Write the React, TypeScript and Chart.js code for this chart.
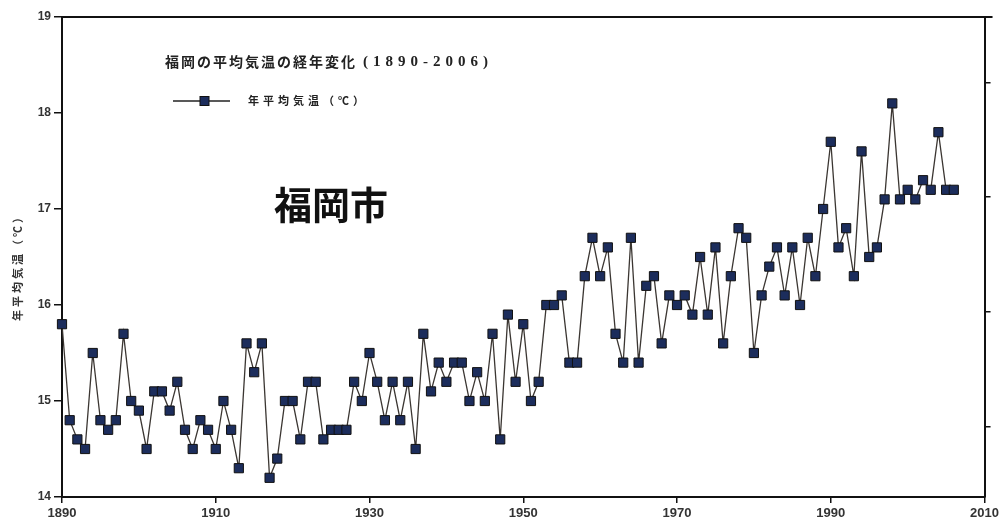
import React, { useEffect, useRef } from "react";
import { Chart, registerables } from "chart.js";

Chart.register(...registerables);

const years: number[] = [
  1890, 1891, 1892, 1893, 1894, 1895, 1896, 1897, 1898, 1899,
  1900, 1901, 1902, 1903, 1904, 1905, 1906, 1907, 1908, 1909,
  1910, 1911, 1912, 1913, 1914, 1915, 1916, 1917, 1918, 1919,
  1920, 1921, 1922, 1923, 1924, 1925, 1926, 1927, 1928, 1929,
  1930, 1931, 1932, 1933, 1934, 1935, 1936, 1937, 1938, 1939,
  1940, 1941, 1942, 1943, 1944, 1945, 1946, 1947, 1948, 1949,
  1950, 1951, 1952, 1953, 1954, 1955, 1956, 1957, 1958, 1959,
  1960, 1961, 1962, 1963, 1964, 1965, 1966, 1967, 1968, 1969,
  1970, 1971, 1972, 1973, 1974, 1975, 1976, 1977, 1978, 1979,
  1980, 1981, 1982, 1983, 1984, 1985, 1986, 1987, 1988, 1989,
  1990, 1991, 1992, 1993, 1994, 1995, 1996, 1997, 1998, 1999,
  2000, 2001, 2002, 2003, 2004, 2005, 2006,
];

const annualMeanTemp: number[] = [
  15.8, 14.8, 14.6, 14.5, 15.5, 14.8, 14.7, 14.8, 15.7, 15.0,
  14.9, 14.5, 15.1, 15.1, 14.9, 15.2, 14.7, 14.5, 14.8, 14.7,
  14.5, 15.0, 14.7, 14.3, 15.6, 15.3, 15.6, 14.2, 14.4, 15.0,
  15.0, 14.6, 15.2, 15.2, 14.6, 14.7, 14.7, 14.7, 15.2, 15.0,
  15.5, 15.2, 14.8, 15.2, 14.8, 15.2, 14.5, 15.7, 15.1, 15.4,
  15.2, 15.4, 15.4, 15.0, 15.3, 15.0, 15.7, 14.6, 15.9, 15.2,
  15.8, 15.0, 15.2, 16.0, 16.0, 16.1, 15.4, 15.4, 16.3, 16.7,
  16.3, 16.6, 15.7, 15.4, 16.7, 15.4, 16.2, 16.3, 15.6, 16.1,
  16.0, 16.1, 15.9, 16.5, 15.9, 16.6, 15.6, 16.3, 16.8, 16.7,
  15.5, 16.1, 16.4, 16.6, 16.1, 16.6, 16.0, 16.7, 16.3, 17.0,
  17.7, 16.6, 16.8, 16.3, 17.6, 16.5, 16.6, 17.1, 18.1, 17.1,
  17.2, 17.1, 17.3, 17.2, 17.8, 17.2, 17.2,
];

const xTicks: number[] = [1890, 1910, 1930, 1950, 1970, 1990, 2010];
const yTicks: number[] = [14, 15, 16, 17, 18, 19];
const rightTicks: number[] = [14.73, 15.93, 17.13, 18.32];

const chartTitleJa = "福岡の平均気温の経年変化";
const chartTitleYears = "(1890-2006)";
const seriesLabel = "年平均気温（℃）";
const yAxisTitle = "年平均気温（℃）";
const cityLabel = "福岡市";

const CJK = '"Noto Sans CJK JP", "Noto Sans CJK SC", sans-serif';
const LATIN = '"Liberation Sans", Arial, sans-serif';

const annotationPlugin = {
  id: "annotations",
  beforeDatasetsDraw(chart: any) {
    const { ctx, chartArea } = chart;
    ctx.save();
    ctx.strokeStyle = "#111";
    ctx.lineWidth = 2;
    ctx.beginPath();
    ctx.moveTo(chartArea.left, chartArea.top);
    ctx.lineTo(chartArea.right + 8, chartArea.top);
    ctx.stroke();
    ctx.restore();
  },
  afterDraw(chart: any) {
    const { ctx, chartArea } = chart;
    const L = chartArea.left;
    const T = chartArea.top;
    ctx.save();
    // title
    ctx.fillStyle = "#222";
    ctx.textBaseline = "middle";
    ctx.textAlign = "left";
    ctx.font = `bold 14px ${CJK}`;
    (ctx as any).letterSpacing = "2px";
    ctx.fillText(chartTitleJa, L + 103, T + 45);
    const w1 = ctx.measureText(chartTitleJa).width;
    ctx.font = `bold 15px "Liberation Serif", serif`;
    (ctx as any).letterSpacing = "5px";
    ctx.fillText(chartTitleYears, L + 103 + w1 + 6, T + 45);

    // legend
    const ly = T + 84;
    ctx.strokeStyle = "#222";
    ctx.lineWidth = 1.5;
    ctx.beginPath();
    ctx.moveTo(L + 111, ly);
    ctx.lineTo(L + 168, ly);
    ctx.stroke();
    ctx.fillStyle = "#1c2d5c";
    ctx.strokeStyle = "#111";
    ctx.lineWidth = 1;
    ctx.fillRect(L + 138, ly - 4.5, 9, 9);
    ctx.strokeRect(L + 138, ly - 4.5, 9, 9);
    ctx.fillStyle = "#222";
    ctx.font = `bold 11px ${CJK}`;
    (ctx as any).letterSpacing = "4px";
    ctx.fillText(seriesLabel, L + 186, ly);

    // y-axis title (rotated)
    ctx.save();
    ctx.translate(18, (chartArea.top + chartArea.bottom) / 2 + 8);
    ctx.rotate(-Math.PI / 2);
    ctx.textAlign = "center";
    ctx.font = `bold 11px ${CJK}`;
    (ctx as any).letterSpacing = "3px";
    ctx.fillStyle = "#333";
    ctx.fillText(yAxisTitle, 0, 0);
    ctx.restore();

    // city label
    ctx.fillStyle = "#111";
    ctx.font = `bold 38px ${CJK}`;
    (ctx as any).letterSpacing = "0px";
    ctx.fillText(cityLabel, L + 212, T + 188);
    ctx.restore();
  },
};

export default function App() {
  const canvasRef = useRef<HTMLCanvasElement | null>(null);

  useEffect(() => {
    const canvas = canvasRef.current;
    if (!canvas) return;
    const points = years.map((y, i) => ({ x: y, y: annualMeanTemp[i] }));
    const chart = new Chart(canvas, {
      type: "line",
      data: {
        datasets: [
          {
            label: seriesLabel,
            data: points,
            borderColor: "#3b3632",
            borderWidth: 1.3,
            pointStyle: "rect",
            pointRadius: 6.5,
            pointBackgroundColor: "#1c2d5c",
            pointBorderColor: "#111",
            pointBorderWidth: 1,
            tension: 0,
            clip: false as any,
          },
        ],
      },
      options: {
        responsive: false,
        animation: false,
        events: [],
        layout: { padding: { top: 17, left: 0, right: 0, bottom: 0 } },
        plugins: {
          legend: { display: false },
          tooltip: { enabled: false },
          title: { display: false },
        },
        scales: {
          x: {
            type: "linear",
            position: "bottom",
            min: 1890,
            max: 2010,
            afterBuildTicks: (s: any) => {
              s.ticks = xTicks.map((v) => ({ value: v }));
            },
            afterFit: (s: any) => {
              s.height = 28;
            },
            ticks: {
              callback: (v: any) => String(v),
              color: "#333",
              font: { family: LATIN, size: 13, weight: "bold" },
              padding: 3,
              maxRotation: 0,
              autoSkip: false,
            },
            grid: {
              drawOnChartArea: false,
              drawTicks: true,
              tickLength: 6,
              color: "#111",
              lineWidth: 1.5,
            },
            border: { display: true, color: "#111", width: 2 },
          },
          y: {
            type: "linear",
            position: "left",
            min: 14,
            max: 19,
            afterBuildTicks: (s: any) => {
              s.ticks = yTicks.map((v) => ({ value: v }));
            },
            afterFit: (s: any) => {
              s.width = 62;
            },
            ticks: {
              callback: (v: any) => String(v),
              color: "#333",
              font: { family: LATIN, size: 12, weight: "bold" },
              padding: 3,
            },
            grid: {
              drawOnChartArea: false,
              drawTicks: true,
              tickLength: 8,
              color: "#111",
              lineWidth: 1.5,
            },
            border: { display: true, color: "#111", width: 2 },
            title: { display: false },
          },
          y2: {
            type: "linear",
            position: "right",
            min: 14,
            max: 19,
            afterBuildTicks: (s: any) => {
              s.ticks = rightTicks.map((v) => ({ value: v }));
            },
            afterFit: (s: any) => {
              s.width = 17;
            },
            ticks: { display: false },
            grid: {
              drawOnChartArea: false,
              drawTicks: true,
              tickLength: 6,
              color: "#111",
              lineWidth: 1.5,
            },
            border: { display: true, color: "#111", width: 2 },
          },
        },
      },
      plugins: [annotationPlugin],
    } as any);
    return () => chart.destroy();
  }, []);

  return (
    <div style={{ position: "fixed", left: 0, top: 0, width: 1002, height: 525, background: "#fff" }}>
      <canvas ref={canvasRef} width={1002} height={525} style={{ width: 1002, height: 525 }} />
    </div>
  );
}
